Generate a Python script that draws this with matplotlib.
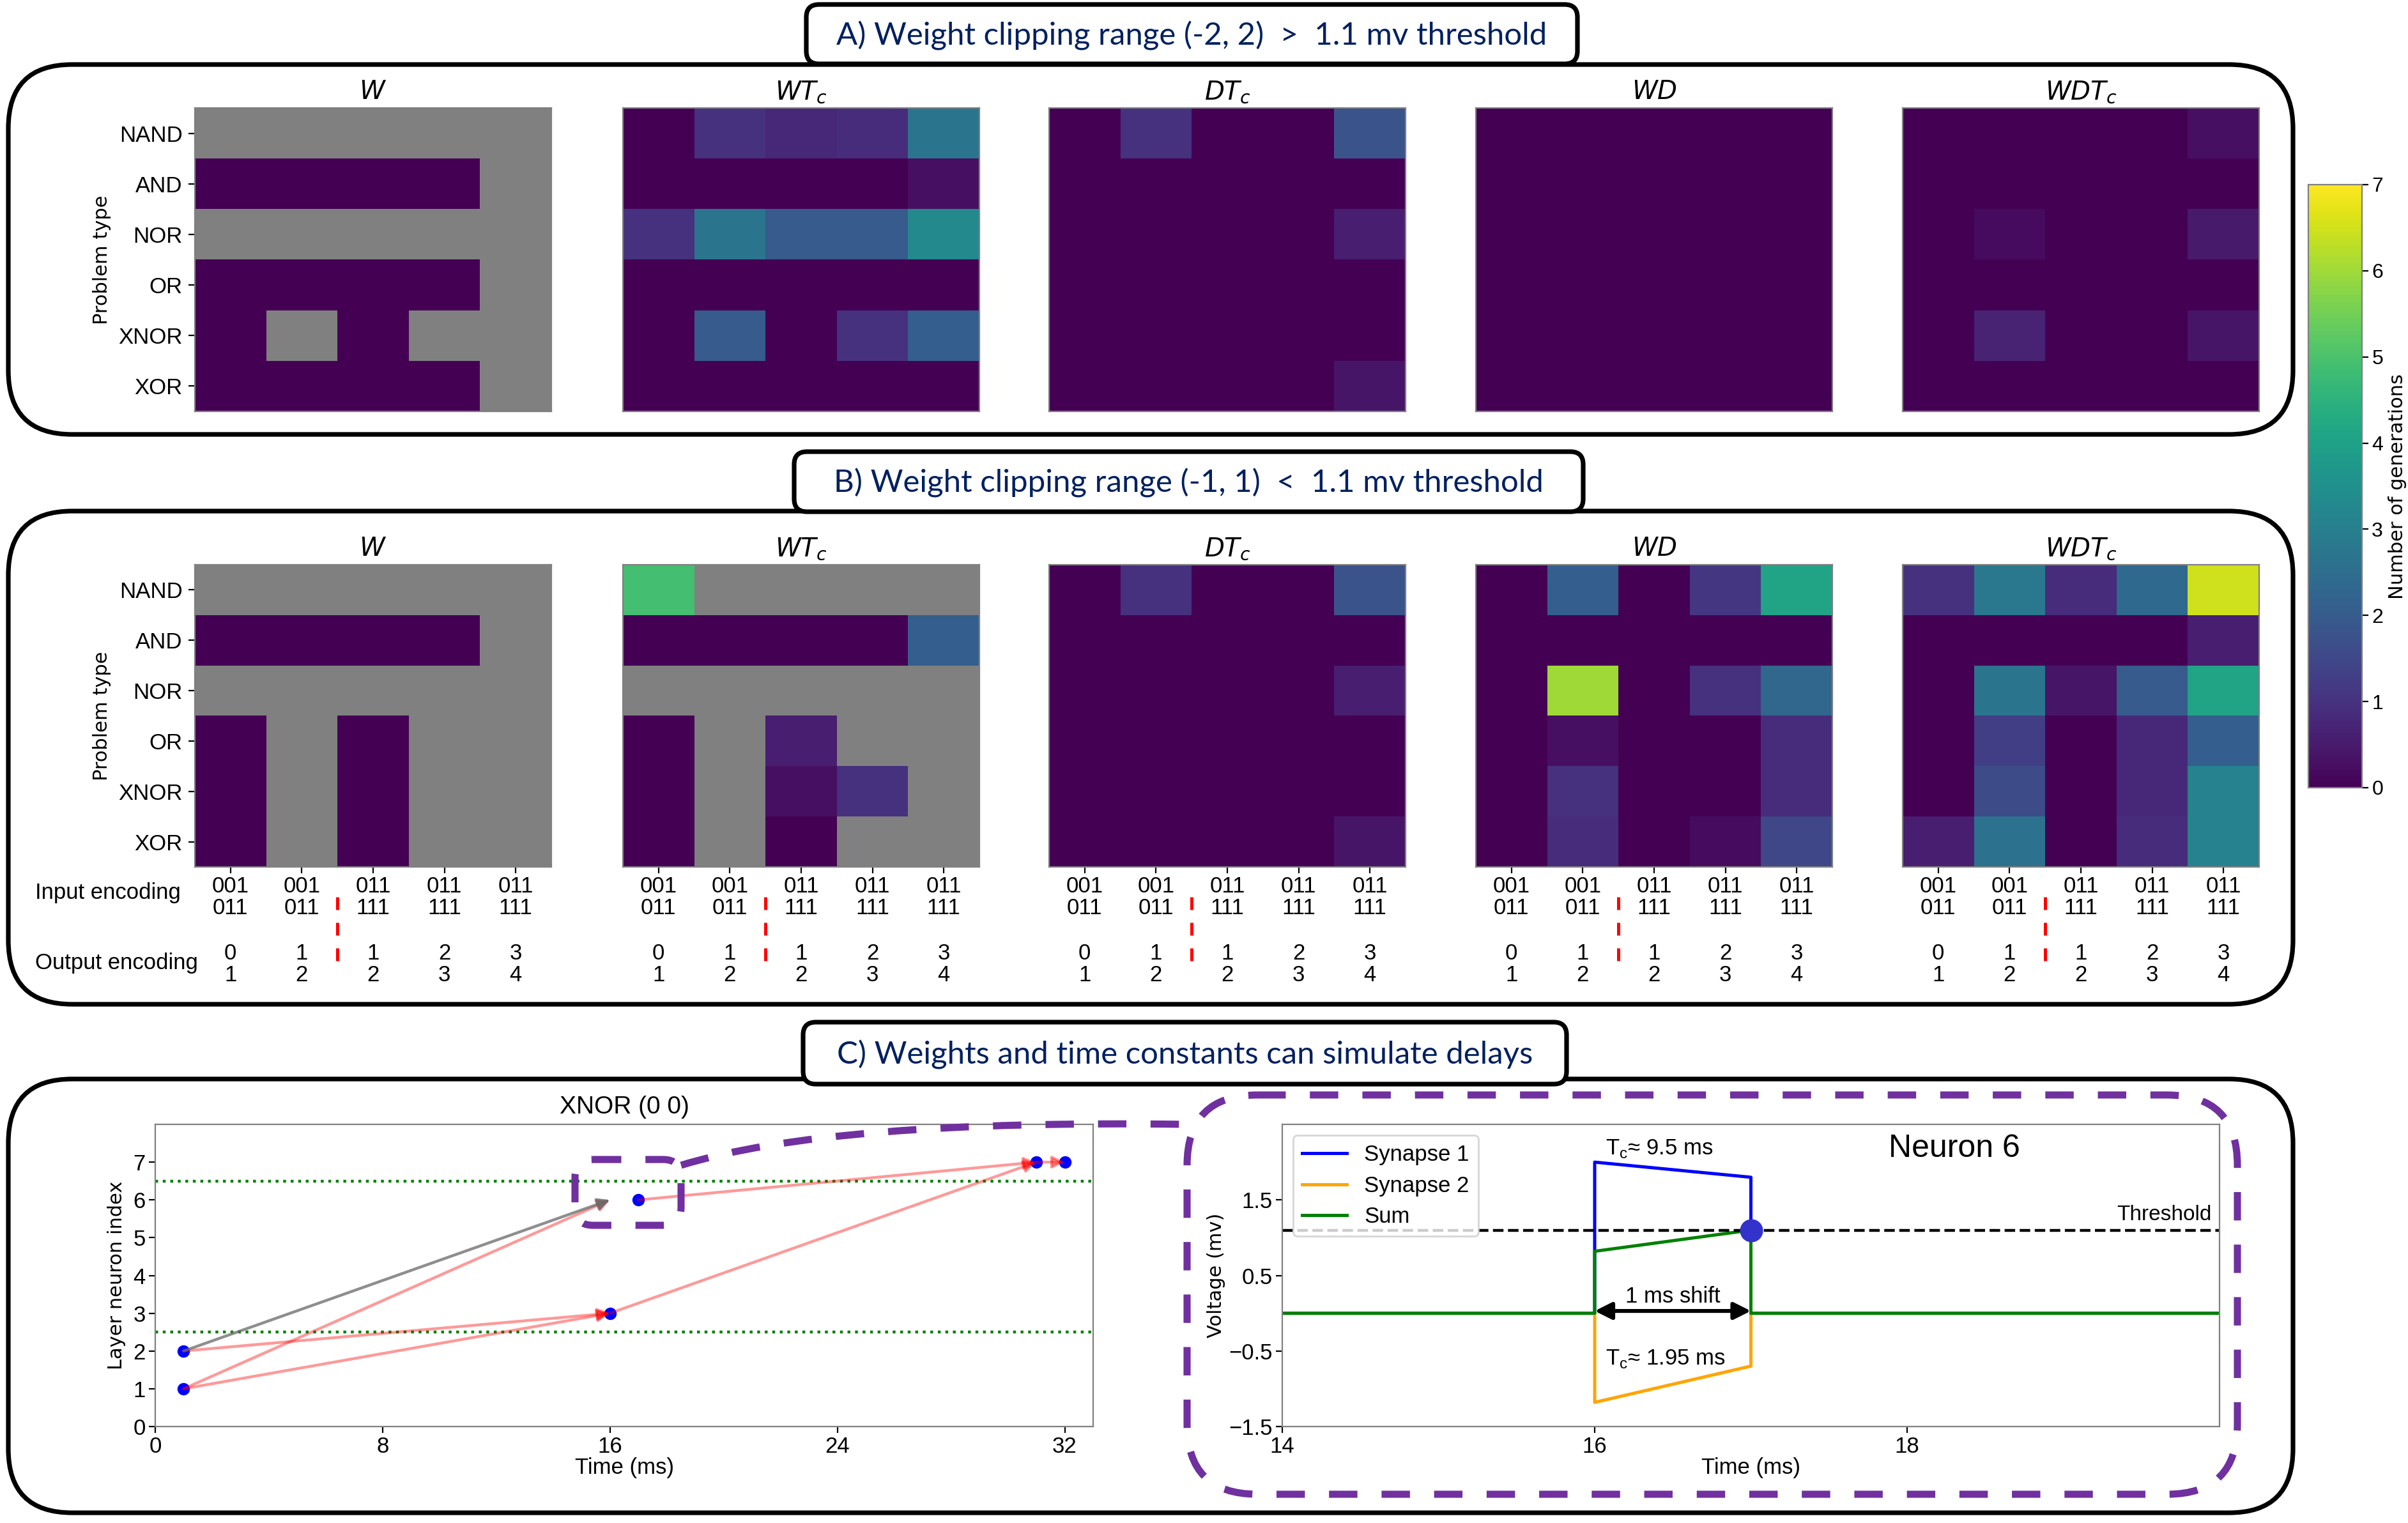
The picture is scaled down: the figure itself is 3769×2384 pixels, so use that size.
import numpy as np
import matplotlib
matplotlib.use("Agg")
import matplotlib.pyplot as plt
from matplotlib.patches import FancyBboxPatch, PathPatch
from matplotlib.path import Path
from matplotlib.transforms import blended_transform_factory

nan = np.nan

problems = ["NAND", "AND", "NOR", "OR", "XNOR", "XOR"]
input_enc = ["001\n011", "001\n011", "011\n111", "011\n111", "011\n111"]
output_enc = ["0\n1", "1\n2", "1\n2", "2\n3", "3\n4"]
methods = ["$W$", "$WT_c$", "$DT_c$", "$WD$", "$WDT_c$"]

# A) clipping range (-2, 2); nan = never solved
a_w = [[nan, nan, nan, nan, nan],
       [0, 0, 0, 0, nan],
       [nan, nan, nan, nan, nan],
       [0, 0, 0, 0, nan],
       [0, nan, 0, nan, nan],
       [0, 0, 0, 0, nan]]
a_wtc = [[0, 1.0, 0.8, 0.9, 2.7],
         [0, 0, 0, 0, 0.3],
         [1.0, 2.7, 2.0, 2.0, 3.3],
         [0, 0, 0, 0, 0],
         [0, 2.0, 0, 1.0, 2.1],
         [0, 0, 0, 0, 0]]
a_dtc = [[0, 1.0, 0, 0, 1.8],
         [0, 0, 0, 0, 0],
         [0, 0, 0, 0, 0.6],
         [0, 0, 0, 0, 0],
         [0, 0, 0, 0, 0],
         [0, 0, 0, 0, 0.4]]
a_wd = [[0, 0, 0, 0, 0],
        [0, 0, 0, 0, 0],
        [0, 0, 0, 0, 0],
        [0, 0, 0, 0, 0],
        [0, 0, 0, 0, 0],
        [0, 0, 0, 0, 0]]
a_wdtc = [[0, 0, 0, 0, 0.3],
          [0, 0, 0, 0, 0],
          [0, 0.2, 0, 0, 0.5],
          [0, 0, 0, 0, 0],
          [0, 0.7, 0, 0, 0.4],
          [0, 0, 0, 0, 0]]

# B) clipping range (-1, 1)
b_w = [[nan, nan, nan, nan, nan],
       [0, 0, 0, 0, nan],
       [nan, nan, nan, nan, nan],
       [0, nan, 0, nan, nan],
       [0, nan, 0, nan, nan],
       [0, nan, 0, nan, nan]]
b_wtc = [[4.9, nan, nan, nan, nan],
         [0, 0, 0, 0, 2.1],
         [nan, nan, nan, nan, nan],
         [0, nan, 0.6, nan, nan],
         [0, nan, 0.3, 1.0, nan],
         [0, nan, 0, nan, nan]]
b_dtc = [[0, 1.0, 0, 0, 1.8],
         [0, 0, 0, 0, 0],
         [0, 0, 0, 0, 0.6],
         [0, 0, 0, 0, 0],
         [0, 0, 0, 0, 0],
         [0, 0, 0, 0, 0.4]]
b_wd = [[0, 2.1, 0, 1.1, 4.1],
        [0, 0, 0, 0, 0],
        [0, 6.0, 0, 1.0, 2.3],
        [0, 0.3, 0, 0, 0.9],
        [0, 1.0, 0, 0, 0.9],
        [0, 0.9, 0, 0.2, 1.5]]
b_wdtc = [[1.0, 2.8, 0.9, 2.4, 6.5],
          [0, 0, 0, 0, 0.6],
          [0, 2.7, 0.4, 2.0, 4.1],
          [0, 1.3, 0, 0.8, 2.1],
          [0, 1.6, 0, 0.8, 3.1],
          [0.6, 2.6, 0, 0.9, 3.1]]

# C) left: spike raster of XNOR (0 0)
spike_t = [1, 1, 16, 17, 31, 32]
spike_n = [1, 2, 3, 6, 7, 7]
layer_bounds = [2.5, 6.5]
arr_src_t = [1, 1, 1, 17, 16, 31, 1]
arr_src_n = [2, 1, 1, 6, 3, 7, 2]
arr_dst_t = [16, 16, 16, 31, 31, 32, 16]
arr_dst_n = [3, 3, 6, 7, 7, 7, 6]
arr_kind = ["exc", "exc", "exc", "exc", "exc", "exc", "inh"]

# C) right: neuron 6 membrane
v_t = [14, 16, 16, 17, 17, 20]
syn1 = [0, 0, 2.0, 1.8, 0, 0]
syn2 = [0, 0, -1.18, -0.70, 0, 0]
vsum = [0, 0, 0.82, 1.10, 0, 0]
threshold = 1.1
fire_t = 17

W_PX, H_PX = 3769, 2384
DPI = 200
NAVY = "#002060"
PURPLE = "#7030a0"

plt.rcParams["font.family"] = ["Liberation Sans", "DejaVu Sans"]
plt.rcParams["axes.edgecolor"] = "#808080"

fig = plt.figure(figsize=(W_PX / DPI, H_PX / DPI), dpi=DPI)


def px_rect(x0, y0, x1, y1):
    return [x0 / W_PX, 1 - y1 / H_PX, (x1 - x0) / W_PX, (y1 - y0) / H_PX]


# background layer for the rounded frames
bg = fig.add_axes([0, 0, 1, 1], zorder=-1)
bg.set_xlim(0, W_PX)
bg.set_ylim(H_PX, 0)
bg.axis("off")


def frame(ax, x0, y0, x1, y1, r, **kw):
    p = FancyBboxPatch((x0, y0), x1 - x0, y1 - y0,
                       boxstyle=f"round,pad=0,rounding_size={r}", **kw)
    ax.add_patch(p)


panels = [(101, 680), (800, 1572), (1689, 2368)]
for y0, y1 in panels:
    frame(bg, 13, y0, 3589, y1, 100, fc="none", ec="black", lw=2.6, zorder=1)

heads = [("A) Weight clipping range (-2, 2)  >  1.1 mv threshold", 1262, 7, 2469, 100),
         ("B) Weight clipping range (-1, 1)  <  1.1 mv threshold", 1243, 707, 2478, 801),
         ("C) Weights and time constants can simulate delays", 1257, 1600, 2452, 1697)]
for txt, x0, y0, x1, y1 in heads:
    frame(bg, x0, y0, x1, y1, 20, fc="white", ec="black", lw=2.6, zorder=2)
    bg.text((x0 + x1) / 2, (y0 + y1) / 2 + 2, txt, ha="center", va="center",
            fontsize=17.7, color=NAVY, zorder=3, family=["Lato", "DejaVu Sans"])

# heatmaps
cmap = plt.get_cmap("viridis").copy()
cmap.set_bad("#808080")
col_x = [305, 975, 1642, 2310, 2978]
hm_w = 558
rows = [(169, 644, [a_w, a_wtc, a_dtc, a_wd, a_wdtc], False),
        (884, 1357, [b_w, b_wtc, b_dtc, b_wd, b_wdtc], True)]

im = None
for y0, y1, mats, show_x in rows:
    for j, (x0, mat) in enumerate(zip(col_x, mats)):
        ax = fig.add_axes(px_rect(x0, y0, x0 + hm_w, y1))
        im = ax.imshow(np.array(mat, dtype=float), cmap=cmap, vmin=0, vmax=7,
                       aspect="auto", interpolation="nearest")
        ax.set_title(methods[j], fontsize=14.5, pad=5, family="DejaVu Sans")
        for s in ax.spines.values():
            s.set_linewidth(0.8)
        if j == 0:
            ax.set_yticks(range(len(problems)))
            ax.set_yticklabels(problems, fontsize=12.5)
            ax.set_ylabel("Problem type", fontsize=11, family="DejaVu Sans")
        else:
            ax.set_yticks([])
        if show_x:
            ax.set_xticks(range(len(input_enc)))
            ax.set_xticklabels(input_enc, fontsize=12.5, linespacing=1.05)
            ax.tick_params(axis="x", pad=1.5)
            tr = blended_transform_factory(ax.transData, ax.transAxes)
            for k, lab in enumerate(output_enc):
                ax.text(k, -0.322, lab, transform=tr, ha="center", va="center",
                        fontsize=12.5, linespacing=1.05)
            ax.plot([1.5, 1.5], [-0.10, -0.318], transform=tr, clip_on=False,
                    color="red", lw=1.8, ls=(0, (4, 4)))
            if j == 0:
                ax.text(-0.448, -0.085, "Input encoding", transform=ax.transAxes,
                        ha="left", va="center", fontsize=12.5)
                ax.text(-0.448, -0.318, "Output encoding", transform=ax.transAxes,
                        ha="left", va="center", fontsize=12.5)
        else:
            ax.set_xticks([])

cax = fig.add_axes(px_rect(3613, 289, 3697, 1233))
cb = fig.colorbar(im, cax=cax)
cb.set_ticks(range(8))
cax.tick_params(labelsize=11.5, pad=2)
cb.set_label("Number of generations", fontsize=11, labelpad=3, family="DejaVu Sans")
cb.outline.set_linewidth(0.8)

# C left: spikes
axl = fig.add_axes(px_rect(243, 1760, 1711, 2233))
axl.set_xlim(0, 33)
axl.set_ylim(0, 8)
axl.set_xticks([0, 8, 16, 24, 32])
axl.set_yticks(range(8))
axl.tick_params(labelsize=12.5, pad=2)
for yb in layer_bounds:
    axl.axhline(yb, color="green", ls=":", lw=1.6)
for st, sn, dt, dn, kd in zip(arr_src_t, arr_src_n, arr_dst_t, arr_dst_n, arr_kind):
    c, a = ("red", 0.4) if kd == "exc" else ("dimgray", 0.75)
    axl.annotate("", xy=(dt, dn), xytext=(st, sn),
                 arrowprops=dict(arrowstyle="-|>", color=c, alpha=a, lw=1.6,
                                 mutation_scale=14, shrinkA=0, shrinkB=0))
axl.plot(spike_t, spike_n, "o", color="blue", ms=6)
axl.set_title("XNOR (0 0)", fontsize=14, pad=6)
axl.set_xlabel("Time (ms)", fontsize=12.5, labelpad=0)
axl.set_ylabel("Layer neuron index", fontsize=11, family="DejaVu Sans")

# C right: neuron 6
axr = fig.add_axes(px_rect(2007, 1760, 3474, 2233))
axr.plot(v_t, syn1, color="blue", lw=1.8, label="Synapse 1")
axr.plot(v_t, syn2, color="orange", lw=1.8, label="Synapse 2")
axr.plot(v_t, vsum, color="green", lw=1.8, label="Sum")
axr.axhline(threshold, color="black", ls="--", lw=1.6)
axr.plot([fire_t], [threshold], "o", color="#3333cc", ms=12)
axr.set_xlim(14, 20)
axr.set_ylim(-1.5, 2.5)
axr.set_xticks([14, 16, 18])
axr.set_yticks([-1.5, -0.5, 0.5, 1.5])
axr.tick_params(labelsize=12.5, pad=2)
axr.set_xlabel("Time (ms)", fontsize=12.5, labelpad=0)
axr.set_ylabel("Voltage (mv)", fontsize=11, family="DejaVu Sans", labelpad=2)
axr.legend(loc="upper left", fontsize=12.5, handlelength=2.0, framealpha=0.8,
           labelspacing=0.45)
axr.annotate("", xy=(17, 0.03), xytext=(16, 0.03),
             arrowprops=dict(arrowstyle="<|-|>", color="black", lw=2.2,
                             mutation_scale=20, shrinkA=0, shrinkB=0))
axr.text(16.5, 0.22, "1 ms shift", ha="center", va="center", fontsize=12.5)
axr.text(16.07, 2.18, "T$_\\mathregular{c}$≈ 9.5 ms", ha="left", va="center", fontsize=12.5)
axr.text(16.07, -0.6, "T$_\\mathregular{c}$≈ 1.95 ms", ha="left", va="center", fontsize=12.5)
axr.text(17.88, 2.18, "Neuron 6", ha="left", va="center", fontsize=18)
axr.text(19.95, 1.17, "Threshold", ha="right", va="bottom", fontsize=12)

# purple zoom callout on top
fg = fig.add_axes([0, 0, 1, 1], zorder=10)
fg.set_xlim(0, W_PX)
fg.set_ylim(H_PX, 0)
fg.axis("off")
fg.patch.set_alpha(0)
dash = dict(fc="none", ec=PURPLE, lw=4, ls=(0, (4, 3.4)))
frame(fg, 900, 1815, 1066, 1918, 28, **dash)
frame(fg, 1858, 1714, 3502, 2339, 110, **dash)
fg.add_patch(PathPatch(Path([(1066, 1824), (1300, 1752), (1858, 1760)],
                            [Path.MOVETO, Path.CURVE3, Path.CURVE3]), **dash))

fig.savefig("out.png", dpi=DPI)
